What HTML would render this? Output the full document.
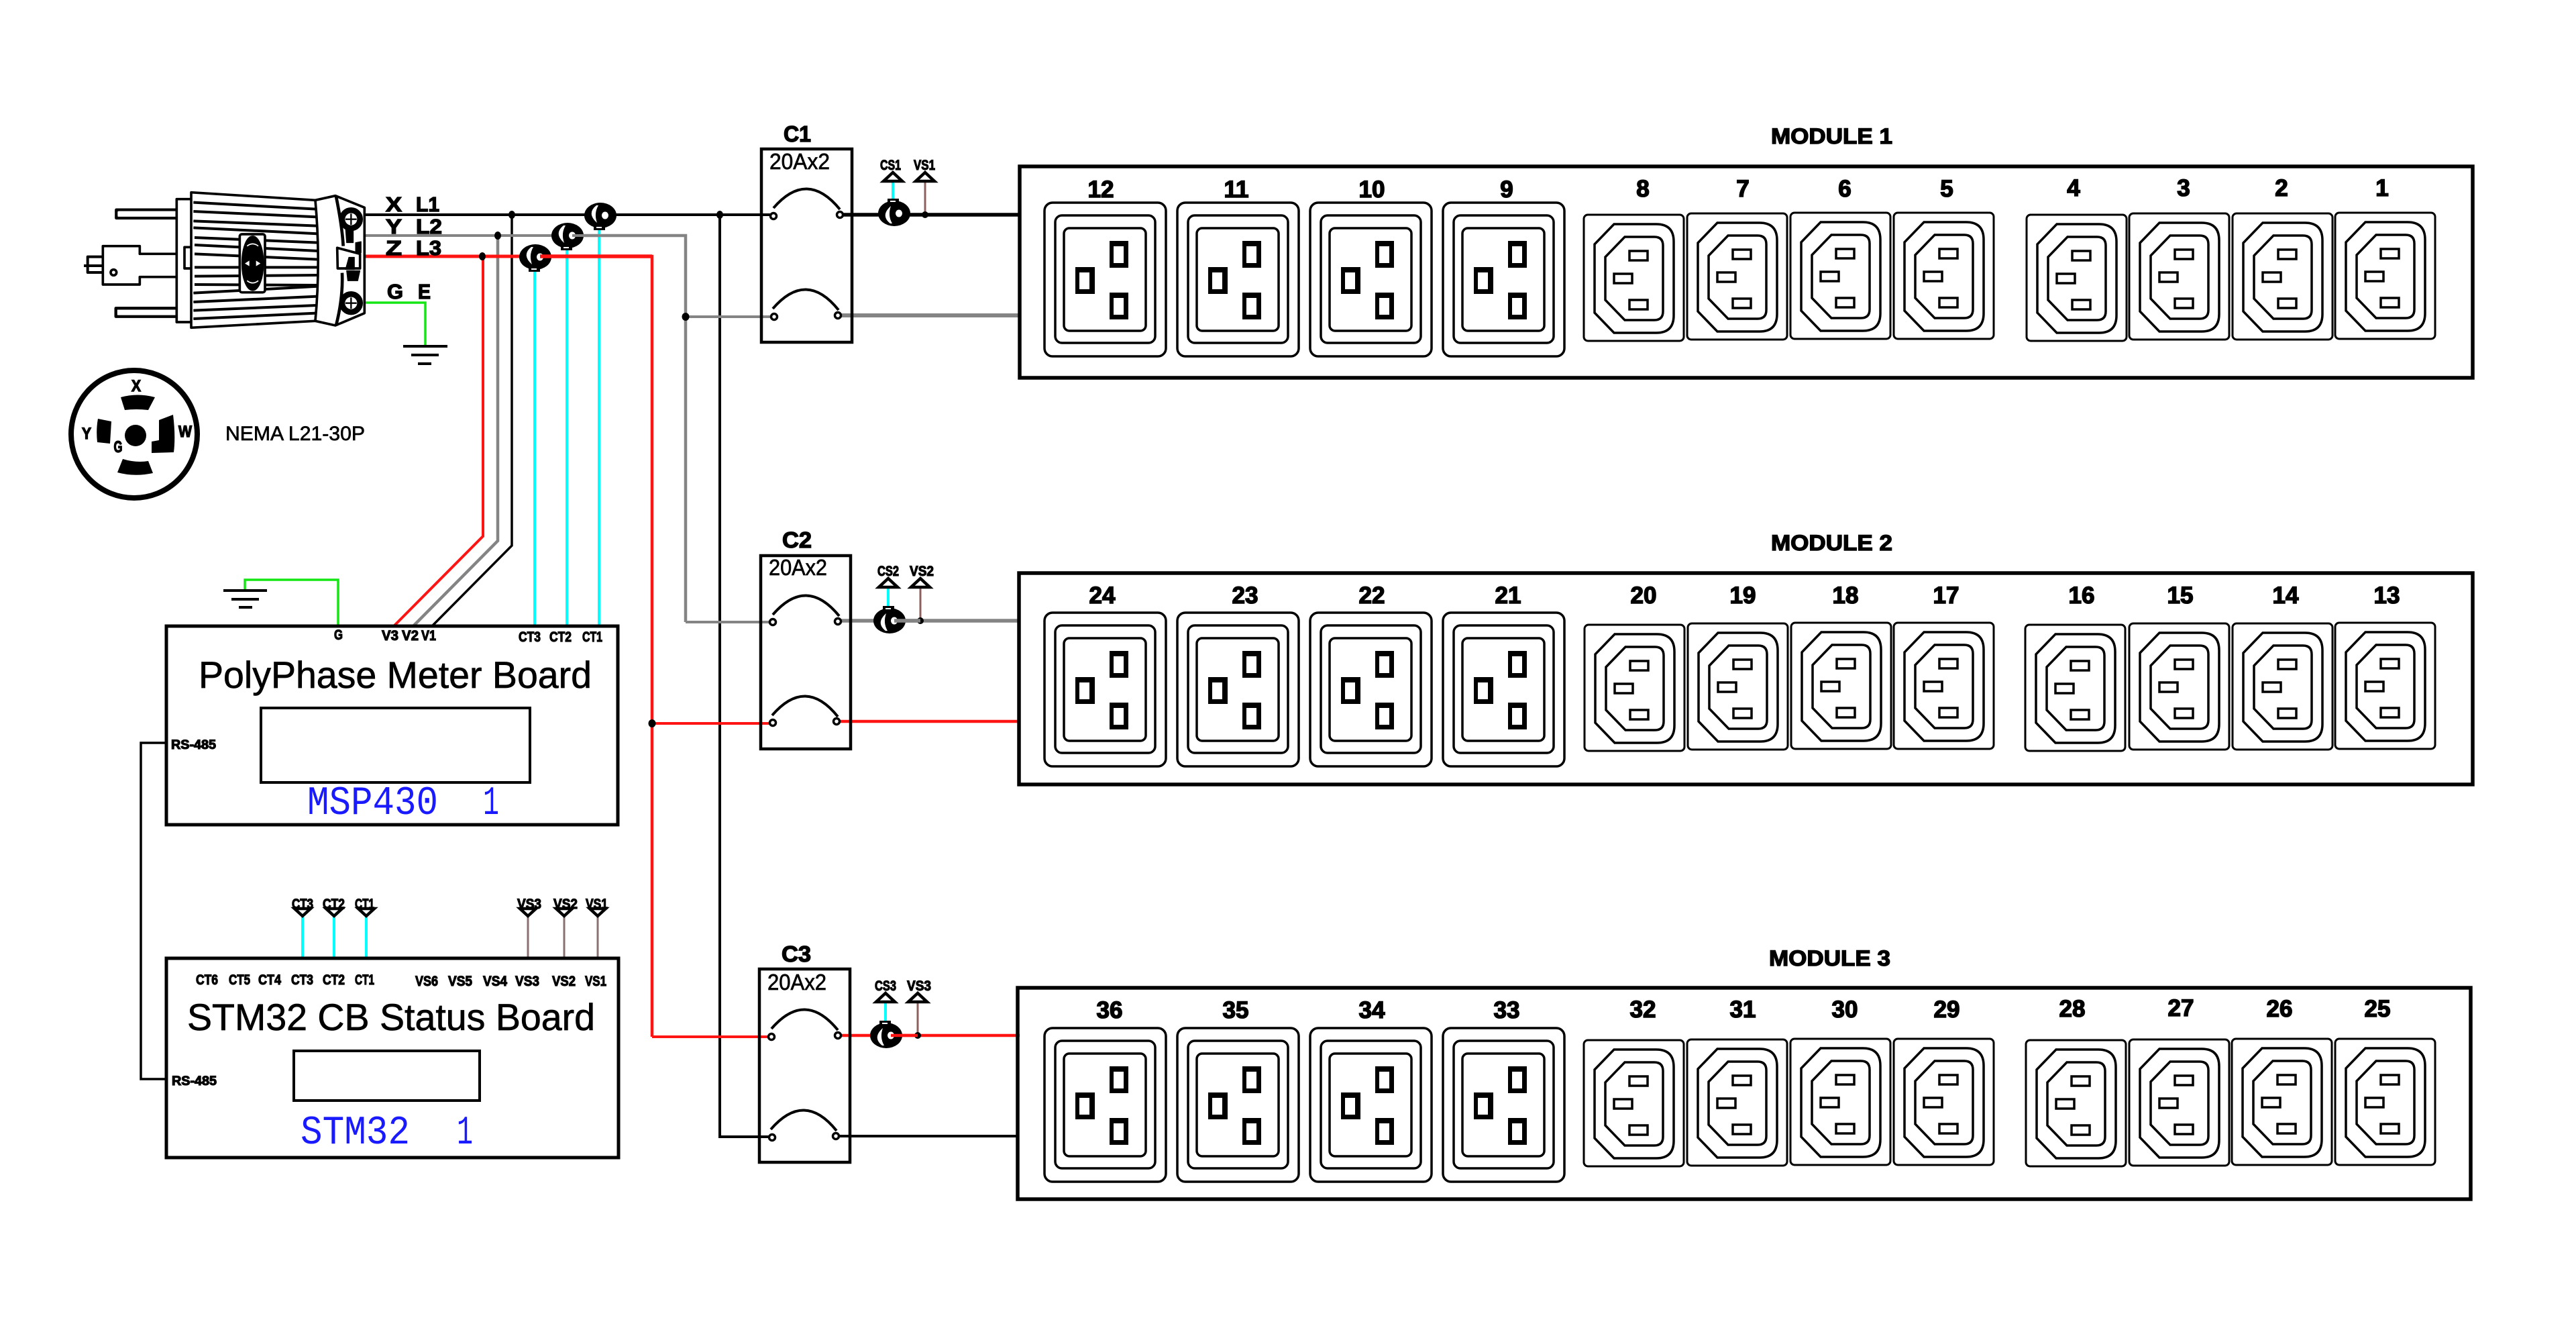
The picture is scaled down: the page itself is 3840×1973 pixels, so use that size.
<!DOCTYPE html>
<html lang="en"><head><meta charset="utf-8"><title>PDU wiring diagram</title>
<style>
html,body{margin:0;padding:0;background:#fff}
svg{display:block}
text{font-family:"Liberation Sans",sans-serif}
.r{fill:#000;stroke:#000;stroke-width:.7}
.b{font-weight:bold;fill:#000;stroke:#000;stroke-width:1.4}
.n{font-size:35px;text-anchor:middle;font-weight:bold;stroke:#000;stroke-width:1.6}
.s{font-size:21px;font-weight:bold;stroke:#000;stroke-width:1.2}
.m{font-family:"Liberation Mono",monospace;fill:#1a1aff;font-size:60px}
</style></head><body>
<svg xmlns="http://www.w3.org/2000/svg" width="3840" height="1973" viewBox="0 0 3840 1973">
<defs>
<g id="c19" fill="none" stroke="#000">
<rect x="0" y="0" width="181" height="229" rx="12" stroke-width="3.5" fill="#fff"/>
<rect x="16" y="19" width="149" height="190" rx="10" stroke-width="3.5"/>
<rect x="29" y="38" width="122" height="153" rx="8" stroke-width="3.5"/>
<g fill="#000" stroke="none">
<rect x="97" y="57" width="28" height="40"/><rect x="97" y="134" width="28" height="40"/><rect x="46" y="96" width="29" height="40"/>
</g>
<g fill="#fff" stroke="none">
<rect x="103" y="65" width="15" height="25"/><rect x="103" y="142" width="15" height="25"/><rect x="52" y="104" width="15" height="25"/>
</g>
</g>
<g id="c13" fill="none" stroke="#000">
<rect x="0" y="0" width="149" height="188" rx="6" stroke-width="3" fill="#fff"/>
<path d="M16 44L45 14H108Q134 14 134 40V150Q134 176 108 176H45L16 146Z" stroke-width="3.5"/>
<path d="M32 63L61 33H105Q118 33 118 46V144Q118 157 105 157H61L32 127Z" stroke-width="3.5"/>
<rect x="68" y="54" width="27" height="14" stroke-width="3.5"/>
<rect x="45" y="88" width="27" height="14" stroke-width="3.5"/>
<rect x="68" y="127" width="27" height="14" stroke-width="3.5"/>
</g>
<g id="donut">
<ellipse cx="-7" cy="0" rx="24" ry="19" fill="#000"/>
<rect x="-17" y="14" width="17" height="8" fill="#000"/>
<rect x="-13" y="17" width="8" height="2" fill="#fff"/>
<path d="M-13 -15Q-28 -3 -12 11Q-17 -3 -10 -15Z" fill="#fff"/>
<ellipse cx="0" cy="0" rx="5" ry="5.5" fill="#fff"/>
</g>
<g id="brk" fill="none" stroke="#000">
<path d="M18 88Q68 30 117 90" stroke-width="4"/>
<path d="M17 238Q67 180 115 240" stroke-width="4"/>
</g>
</defs>

<!-- wires -->
<g fill="none" stroke-linejoin="miter">
<path d="M543 320H1153" stroke="#000" stroke-width="4"/>
<path d="M763 320V813L645 932" stroke="#000" stroke-width="3.5"/>
<path d="M1073 320V1694H1151" stroke="#000" stroke-width="4"/>
<path d="M543 351H840" stroke="#848484" stroke-width="4"/>
<path d="M742 351V806L617 932" stroke="#848484" stroke-width="4.5"/>
<path d="M543 382H790" stroke="#ff1414" stroke-width="5"/>
<path d="M720 382V799L588 932" stroke="#ff1414" stroke-width="4"/>
<path d="M797 400V932M845 372V932M893 340V932" stroke="#00ffff" stroke-width="4"/>
<path d="M543 451H634V516" stroke="#14e614" stroke-width="3.5"/>
<path d="M504 932V864H365V880" stroke="#14e614" stroke-width="3.5"/>
<path d="M1022 472H1154" stroke="#848484" stroke-width="4"/>
<path d="M1022 927H1152" stroke="#848484" stroke-width="4"/>
<path d="M972 1078H1152" stroke="#ff1414" stroke-width="4"/>
<path d="M972 1545H1150" stroke="#ff1414" stroke-width="4"/>
<path d="M1252 320H1520" stroke="#000" stroke-width="5.5"/>
<path d="M1249 470H1520" stroke="#848484" stroke-width="6"/>
<path d="M1250 925H1519" stroke="#848484" stroke-width="5.5"/>
<path d="M1250 1075H1519" stroke="#ff1414" stroke-width="4.5"/>
<path d="M1250 1543H1520" stroke="#ff1414" stroke-width="4.5"/>
<path d="M1246 1693H1517" stroke="#000" stroke-width="4"/>
<path d="M1331 270V305" stroke="#00ffff" stroke-width="4"/>
<path d="M1324 876V905" stroke="#00ffff" stroke-width="4"/>
<path d="M1320 1494V1525" stroke="#00ffff" stroke-width="4"/>
<path d="M1379 268V320M1372 876V925M1368 1494V1543" stroke="#8c6060" stroke-width="3"/>
<path d="M451 1366V1428M498 1366V1428M546 1366V1428" stroke="#00ffff" stroke-width="4"/>
<path d="M787 1366V1428M841 1366V1428M891 1366V1428" stroke="#8a7070" stroke-width="3"/>
<path d="M248 1107H210V1608H248" stroke="#000" stroke-width="3.5"/>
</g>

<!-- red/gray long verticals drawn above black crossing -->
<path d="M790 382H972V1545" fill="none" stroke="#ff1414" stroke-width="4.5"/>
<path d="M840 351H1022V927" fill="none" stroke="#848484" stroke-width="4.5"/>

<!-- junction dots -->
<g fill="#000">
<ellipse cx="719" cy="382" rx="5" ry="6"/><ellipse cx="742" cy="351" rx="5" ry="6"/><ellipse cx="763" cy="320" rx="5" ry="6"/>
<ellipse cx="1073" cy="320" rx="5" ry="6"/><ellipse cx="1022" cy="472" rx="5.5" ry="6"/><ellipse cx="972" cy="1078" rx="5.5" ry="6"/>
<circle cx="1379" cy="320" r="5"/><circle cx="1372" cy="925" r="5"/><circle cx="1368" cy="1543" r="5"/>
</g>

<!-- current transformers -->
<use href="#donut" x="805" y="383"/>
<use href="#donut" x="853" y="351"/>
<use href="#donut" x="902" y="321"/>
<path d="M805 382H972" stroke="#ff1414" stroke-width="5.5" fill="none"/>
<path d="M853 351H1022" stroke="#848484" stroke-width="4" fill="none"/>
<use href="#donut" transform="translate(1340 318) scale(1 -1)"/>
<use href="#donut" transform="translate(1333 925) scale(1 -1)"/>
<use href="#donut" transform="translate(1328 1543) scale(1 -1)"/>
<path d="M1333 925H1372" stroke="#848484" stroke-width="5.5"/>
<path d="M1328 1543H1368" stroke="#ff1414" stroke-width="4.5"/>

<!-- ground -->
<g fill="#000">
<rect x="601" y="514" width="66" height="4"/><rect x="613" y="527" width="41" height="4"/><rect x="623" y="540" width="20" height="4"/>
<rect x="333" y="878" width="65" height="4"/><rect x="345" y="891" width="41" height="4"/><rect x="356" y="903" width="20" height="4"/>
</g>

<!-- plug -->
<g transform="translate(120 270) scale(.33333)" stroke="#000" fill="none" stroke-width="11" stroke-linejoin="round">
<path d="M425 128H160V165H425" stroke-width="13" />
<path d="M425 140H172V152H425" stroke="#fff" stroke-width="12"/>
<path d="M425 568H158V605H425" stroke-width="13"/>
<path d="M425 584H172V594H425" stroke="#fff" stroke-width="10"/>
<path d="M425 325H265V290H100V462H265V428H425"/>
<circle cx="148" cy="408" r="13" stroke-width="11"/>
<path d="M100 338H32V408H100M15 378H100" stroke-width="12"/>
<path d="M495 80H430V630H495"/>
<rect x="465" y="295" width="36" height="95"/>
<path d="M495 50L1050 85L1072 240L1065 480L1050 625L495 655Z" fill="#fff"/>
<path d="M505 95L1055 125M505 135L1060 160M505 178L1060 200M505 208L1065 235M510 252L1065 275M510 285L1065 312M510 325L1065 350M510 385L1065 385M510 425L1065 420M510 462L1065 465M505 500L1065 470M505 540L1060 515M505 578L1055 555M505 615L1055 590" stroke-width="12"/>
<rect x="712" y="237" width="113" height="260" rx="10" fill="#fff"/>
<ellipse cx="770" cy="367" rx="45" ry="118" fill="#000"/>
<path d="M735 368L755 355V380ZM805 368L785 355V380Z" fill="#fff" stroke="none"/>
<path d="M745 290Q770 270 795 290M745 445Q770 465 795 445" stroke="#fff" stroke-width="5"/>
<path d="M1050 85L1140 65L1270 118V590L1140 645L1050 625Q1075 360 1050 85Z" fill="#fff"/>
<path d="M1143 68Q1170 200 1175 290M1170 410Q1175 520 1143 645" stroke-width="14"/>
<circle cx="1210" cy="170" r="40" fill="#fff" stroke-width="26"/>
<circle cx="1210" cy="545" r="40" fill="#fff" stroke-width="26"/>
<path d="M1210 145V195M1185 170H1235M1210 520V570M1185 545H1235" stroke-width="7"/>
<path d="M1148 298L1250 325V390L1150 390Z" fill="#fff" stroke-width="11"/>
<path d="M1200 340H1225V395H1185ZM1185 210H1220V275H1190ZM1230 275L1255 270V320H1230ZM1190 400H1250L1240 445H1195Z" fill="#000" stroke-width="3"/>
</g>

<!-- NEMA face -->
<ellipse cx="200" cy="647" rx="94" ry="95" fill="none" stroke="#000" stroke-width="8"/>
<g fill="#000">
<path d="M180 592Q205 585 231 592L221 611Q203 609 186 611Z"/>
<path d="M146 624L166 628L164 661L145 659Q143 640 146 624Z"/>
<path d="M237 626L258 618Q262 650 259 674L226 675V658L237 656Z"/>
<path d="M183 684Q203 690 221 687L228 705Q200 711 175 704Z"/>
<circle cx="202" cy="649" r="16"/>
</g>
<text x="203" y="583" text-anchor="middle" class="b" style="font-size:24px" textLength="14" lengthAdjust="spacingAndGlyphs">X</text>
<text x="129" y="654" text-anchor="middle" class="b" style="font-size:24px" textLength="14" lengthAdjust="spacingAndGlyphs">Y</text>
<text x="276" y="651" text-anchor="middle" class="b" style="font-size:24px" textLength="20" lengthAdjust="spacingAndGlyphs">W</text>
<text x="176" y="674" text-anchor="middle" class="b" style="font-size:24px" textLength="13" lengthAdjust="spacingAndGlyphs">G</text>
<text x="336" y="656" class="r" style="font-size:30px" textLength="208" lengthAdjust="spacingAndGlyphs">NEMA L21-30P</text>

<!-- line labels -->
<g style="font-size:31px">
<text x="575" y="315" class="b" textLength="24" lengthAdjust="spacingAndGlyphs">X</text><text x="620" y="315" class="b" textLength="35" lengthAdjust="spacingAndGlyphs">L1</text>
<text x="575" y="348" class="b" textLength="24" lengthAdjust="spacingAndGlyphs">Y</text><text x="620" y="348" class="b" textLength="39" lengthAdjust="spacingAndGlyphs">L2</text>
<text x="575" y="380" class="b" textLength="24" lengthAdjust="spacingAndGlyphs">Z</text><text x="620" y="380" class="b" textLength="38" lengthAdjust="spacingAndGlyphs">L3</text>
<text x="577" y="445" class="b" textLength="24" lengthAdjust="spacingAndGlyphs">G</text><text x="623" y="445" class="b" textLength="19" lengthAdjust="spacingAndGlyphs">E</text>
</g>

<!-- Breakers -->
<g fill="#fff" stroke="#000" stroke-width="4.5">
<rect x="1135" y="222" width="135" height="288" fill="none"/>
<rect x="1134" y="828" width="134" height="288" fill="none"/>
<rect x="1132" y="1444" width="135" height="288" fill="none"/>
</g>
<use href="#brk" x="1135" y="222"/>
<use href="#brk" x="1134" y="828"/>
<use href="#brk" x="1132" y="1445"/>
<g fill="#fff" stroke="#000" stroke-width="3.5">
<circle cx="1153" cy="322" r="4.5"/><circle cx="1252" cy="320" r="4.5"/><circle cx="1154" cy="472" r="4.5"/><circle cx="1249" cy="470" r="4.5"/>
<circle cx="1152" cy="927" r="4.5"/><circle cx="1249" cy="926" r="4.5"/><circle cx="1152" cy="1077" r="4.5"/><circle cx="1247" cy="1075" r="4.5"/>
<circle cx="1150" cy="1545" r="4.5"/><circle cx="1249" cy="1543" r="4.5"/><circle cx="1151" cy="1695" r="4.5"/><circle cx="1246" cy="1693" r="4.5"/>
</g>
<g style="font-size:33px">
<text x="1168" y="211" class="b" textLength="41" lengthAdjust="spacingAndGlyphs">C1</text>
<text x="1166" y="816" class="b" textLength="44" lengthAdjust="spacingAndGlyphs">C2</text>
<text x="1165" y="1433" class="b" textLength="44" lengthAdjust="spacingAndGlyphs">C3</text>
</g>
<g style="font-size:33px">
<text x="1147" y="252" class="r" textLength="90" lengthAdjust="spacingAndGlyphs">20Ax2</text>
<text x="1146" y="857" class="r" textLength="87" lengthAdjust="spacingAndGlyphs">20Ax2</text>
<text x="1144" y="1475" class="r" textLength="88" lengthAdjust="spacingAndGlyphs">20Ax2</text>
</g>

<!-- sense triangles -->
<g fill="#fff" stroke="#000" stroke-width="4.5" stroke-linejoin="miter">
<path d="M1331 257L1317 270H1345Z"/><path d="M1379 257L1365 270H1393Z"/>
<path d="M1324 862L1310 875H1338Z"/><path d="M1372 862L1358 875H1386Z"/>
<path d="M1320 1480L1306 1493H1334Z"/><path d="M1368 1480L1354 1493H1382Z"/>
<path d="M451 1365L439 1354H463Z"/><path d="M498 1365L486 1354H510Z"/><path d="M546 1365L534 1354H558Z"/>
<path d="M787 1365L775 1354H799Z"/><path d="M841 1365L829 1354H853Z"/><path d="M891 1365L879 1354H903Z"/>
</g>
<text x="1312" y="253" class="s" textLength="31" lengthAdjust="spacingAndGlyphs">CS1</text>
<text x="1362" y="253" class="s" textLength="32" lengthAdjust="spacingAndGlyphs">VS1</text>
<text x="1308" y="858" class="s" textLength="32" lengthAdjust="spacingAndGlyphs">CS2</text>
<text x="1356" y="858" class="s" textLength="36" lengthAdjust="spacingAndGlyphs">VS2</text>
<text x="1304" y="1476" class="s" textLength="32" lengthAdjust="spacingAndGlyphs">CS3</text>
<text x="1352" y="1476" class="s" textLength="36" lengthAdjust="spacingAndGlyphs">VS3</text>

<!-- Boards -->
<rect x="248" y="933" width="673" height="296" fill="none" stroke="#000" stroke-width="5"/>
<rect x="389" y="1055" width="401" height="111" fill="none" stroke="#000" stroke-width="4"/>
<text x="296" y="1025" class="r" style="font-size:56px" textLength="586" lengthAdjust="spacingAndGlyphs">PolyPhase Meter Board</text>
<text x="458" y="1213" class="m" textLength="195" lengthAdjust="spacingAndGlyphs">MSP430</text>
<text x="720" y="1213" class="m" textLength="24" lengthAdjust="spacingAndGlyphs">1</text>

<rect x="248" y="1428" width="674" height="297" fill="none" stroke="#000" stroke-width="5"/>
<rect x="438" y="1566" width="277" height="74" fill="none" stroke="#000" stroke-width="4"/>
<text x="279" y="1535" class="r" style="font-size:56px" textLength="608" lengthAdjust="spacingAndGlyphs">STM32 CB Status Board</text>
<text x="448" y="1704" class="m" textLength="163" lengthAdjust="spacingAndGlyphs">STM32</text>
<text x="681" y="1704" class="m" textLength="24" lengthAdjust="spacingAndGlyphs">1</text>

<text x="255" y="1116" class="s" style="font-size:19px" textLength="67" lengthAdjust="spacingAndGlyphs">RS-485</text>
<text x="256" y="1617" class="s" style="font-size:19px" textLength="67" lengthAdjust="spacingAndGlyphs">RS-485</text>

<text x="498" y="953" class="s" textLength="13" lengthAdjust="spacingAndGlyphs">G</text>
<text x="569" y="954" class="s" textLength="25" lengthAdjust="spacingAndGlyphs">V3</text>
<text x="599" y="954" class="s" textLength="25" lengthAdjust="spacingAndGlyphs">V2</text>
<text x="628" y="954" class="s" textLength="22" lengthAdjust="spacingAndGlyphs">V1</text>
<text x="773" y="956" class="s" textLength="33" lengthAdjust="spacingAndGlyphs">CT3</text>
<text x="819" y="956" class="s" textLength="33" lengthAdjust="spacingAndGlyphs">CT2</text>
<text x="868" y="956" class="s" textLength="30" lengthAdjust="spacingAndGlyphs">CT1</text>

<text x="292" y="1467" class="s" textLength="33" lengthAdjust="spacingAndGlyphs">CT6</text>
<text x="341" y="1467" class="s" textLength="32" lengthAdjust="spacingAndGlyphs">CT5</text>
<text x="385" y="1467" class="s" textLength="34" lengthAdjust="spacingAndGlyphs">CT4</text>
<text x="434" y="1467" class="s" textLength="33" lengthAdjust="spacingAndGlyphs">CT3</text>
<text x="481" y="1467" class="s" textLength="33" lengthAdjust="spacingAndGlyphs">CT2</text>
<text x="529" y="1467" class="s" textLength="29" lengthAdjust="spacingAndGlyphs">CT1</text>
<text x="619" y="1469" class="s" textLength="34" lengthAdjust="spacingAndGlyphs">VS6</text>
<text x="668" y="1469" class="s" textLength="36" lengthAdjust="spacingAndGlyphs">VS5</text>
<text x="720" y="1469" class="s" textLength="36" lengthAdjust="spacingAndGlyphs">VS4</text>
<text x="768" y="1469" class="s" textLength="36" lengthAdjust="spacingAndGlyphs">VS3</text>
<text x="823" y="1469" class="s" textLength="35" lengthAdjust="spacingAndGlyphs">VS2</text>
<text x="872" y="1469" class="s" textLength="32" lengthAdjust="spacingAndGlyphs">VS1</text>

<text x="435" y="1354" class="s" textLength="32" lengthAdjust="spacingAndGlyphs">CT3</text>
<text x="481" y="1354" class="s" textLength="33" lengthAdjust="spacingAndGlyphs">CT2</text>
<text x="529" y="1354" class="s" textLength="29" lengthAdjust="spacingAndGlyphs">CT1</text>
<text x="771" y="1354" class="s" textLength="36" lengthAdjust="spacingAndGlyphs">VS3</text>
<text x="825" y="1354" class="s" textLength="36" lengthAdjust="spacingAndGlyphs">VS2</text>
<text x="873" y="1354" class="s" textLength="33" lengthAdjust="spacingAndGlyphs">VS1</text>

<!-- Modules -->
<g fill="none" stroke="#000" stroke-width="5.5">
<rect x="1520" y="248" width="2166" height="315"/>
<rect x="1519" y="854" width="2167" height="315"/>
<rect x="1517" y="1472" width="2166" height="315"/>
</g>
<g style="font-size:32px">
<text x="2640" y="214" class="b" textLength="181" lengthAdjust="spacingAndGlyphs">MODULE 1</text>
<text x="2640" y="820" class="b" textLength="181" lengthAdjust="spacingAndGlyphs">MODULE 2</text>
<text x="2637" y="1439" class="b" textLength="181" lengthAdjust="spacingAndGlyphs">MODULE 3</text>
</g>

<use href="#c19" x="1557" y="302"/><use href="#c19" x="1755" y="302"/><use href="#c19" x="1953" y="302"/><use href="#c19" x="2151" y="302"/>
<use href="#c19" x="1557" y="913"/><use href="#c19" x="1755" y="913"/><use href="#c19" x="1953" y="913"/><use href="#c19" x="2151" y="913"/>
<use href="#c19" x="1557" y="1532"/><use href="#c19" x="1755" y="1532"/><use href="#c19" x="1953" y="1532"/><use href="#c19" x="2151" y="1532"/>

<use href="#c13" x="2361" y="320"/><use href="#c13" x="2515" y="318"/><use href="#c13" x="2669" y="317"/><use href="#c13" x="2823" y="317"/>
<use href="#c13" x="3021" y="320"/><use href="#c13" x="3174" y="318"/><use href="#c13" x="3328" y="318"/><use href="#c13" x="3481" y="317"/>
<use href="#c13" x="2362" y="931"/><use href="#c13" x="2516" y="929"/><use href="#c13" x="2670" y="928"/><use href="#c13" x="2823" y="928"/>
<use href="#c13" x="3019" y="931"/><use href="#c13" x="3174" y="929"/><use href="#c13" x="3328" y="929"/><use href="#c13" x="3481" y="928"/>
<use href="#c13" x="2361" y="1550"/><use href="#c13" x="2515" y="1549"/><use href="#c13" x="2669" y="1548"/><use href="#c13" x="2823" y="1548"/>
<use href="#c13" x="3020" y="1550"/><use href="#c13" x="3174" y="1549"/><use href="#c13" x="3327" y="1548"/><use href="#c13" x="3481" y="1548"/>

<!-- Outlet numbers -->
<text x="1641" y="294" class="n">12</text><text x="1843" y="294" class="n">11</text><text x="2045" y="294" class="n">10</text><text x="2246" y="294" class="n">9</text>
<text x="2449" y="293" class="n">8</text><text x="2598" y="293" class="n">7</text><text x="2750" y="293" class="n">6</text><text x="2902" y="293" class="n">5</text>
<text x="3091" y="292" class="n">4</text><text x="3255" y="292" class="n">3</text><text x="3401" y="292" class="n">2</text><text x="3551" y="292" class="n">1</text>

<text x="1643" y="899" class="n">24</text><text x="1856" y="899" class="n">23</text><text x="2045" y="899" class="n">22</text><text x="2248" y="899" class="n">21</text>
<text x="2450" y="899" class="n">20</text><text x="2598" y="899" class="n">19</text><text x="2751" y="899" class="n">18</text><text x="2901" y="899" class="n">17</text>
<text x="3103" y="899" class="n">16</text><text x="3250" y="899" class="n">15</text><text x="3407" y="899" class="n">14</text><text x="3558" y="899" class="n">13</text>

<text x="1654" y="1517" class="n">36</text><text x="1842" y="1517" class="n">35</text><text x="2045" y="1517" class="n">34</text><text x="2246" y="1517" class="n">33</text>
<text x="2449" y="1516" class="n">32</text><text x="2598" y="1516" class="n">31</text><text x="2750" y="1516" class="n">30</text><text x="2902" y="1516" class="n">29</text>
<text x="3089" y="1515" class="n">28</text><text x="3251" y="1514" class="n">27</text><text x="3398" y="1515" class="n">26</text><text x="3544" y="1515" class="n">25</text>
</svg>
</body></html>
